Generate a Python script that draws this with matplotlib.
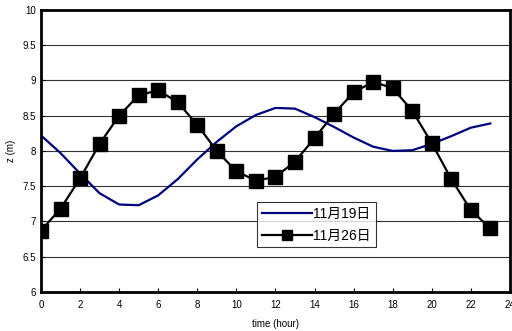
# 11月19日・11月26日の潮位の時間変化

import numpy as np
import matplotlib.pyplot as plt

plt.rcParams['font.family'] = ['Liberation Sans', 'Noto Sans CJK JP', 'DejaVu Sans']

# 時刻 (hour)
hours = list(range(24))
# 11月19日の潮位 z (m)
z_1119 = [8.22, 7.97, 7.68, 7.40, 7.24, 7.23, 7.37, 7.60, 7.88, 8.13, 8.35, 8.51,
          8.61, 8.60, 8.48, 8.34, 8.19, 8.06, 8.00, 8.01, 8.10, 8.21, 8.33, 8.39]
# 11月26日の潮位 z (m)
z_1126 = [6.87, 7.18, 7.61, 8.10, 8.50, 8.79, 8.86, 8.69, 8.37, 8.00, 7.71, 7.58,
          7.63, 7.85, 8.18, 8.53, 8.83, 8.98, 8.89, 8.57, 8.11, 7.60, 7.16, 6.90]
labels = ['11月19日', '11月26日']
xticks = np.arange(0, 25, 2)
yticks = np.arange(6, 10.01, 0.5)

fig = plt.figure(figsize=(5.12, 3.31), dpi=100)
ax = fig.add_axes([0.080, 0.118, 0.916, 0.852])

# 横方向のグリッド線
for yv in yticks[1:-1]:
    ax.axhline(yv, color='#333333', lw=0.8, zorder=1)

ax.plot(hours, z_1119, color='#000080', lw=1.6, label=labels[0], zorder=2)
ax.plot(hours, z_1126, color='black', lw=1.6, marker='s', markersize=10,
        label=labels[1], zorder=3)

ax.set_xlim(0, 24)
ax.set_ylim(6, 10)
ax.set_xticks(xticks)
ax.set_yticks(yticks)
ax.set_yticklabels(['6', '6.5', '7', '7.5', '8', '8.5', '9', '9.5', '10'])
ax.tick_params(direction='in', labelsize=7, length=3, width=0.8)
ax.tick_params(axis='x', pad=6)
for s in ax.spines.values():
    s.set_linewidth(2)
ax.set_xlabel('time (hour)', fontsize=7, labelpad=6)
ax.set_ylabel('z (m)', fontsize=7, labelpad=5)

leg = ax.legend(loc='upper left', bbox_to_anchor=(0.461, 0.319), fontsize=10,
                frameon=True, fancybox=False, edgecolor='black',
                handlelength=3.6, handletextpad=0.1, borderpad=0.35,
                labelspacing=0.55, borderaxespad=0, markerscale=0.75)
leg.get_frame().set_linewidth(0.8)

fig.savefig('out.png', dpi=100)
